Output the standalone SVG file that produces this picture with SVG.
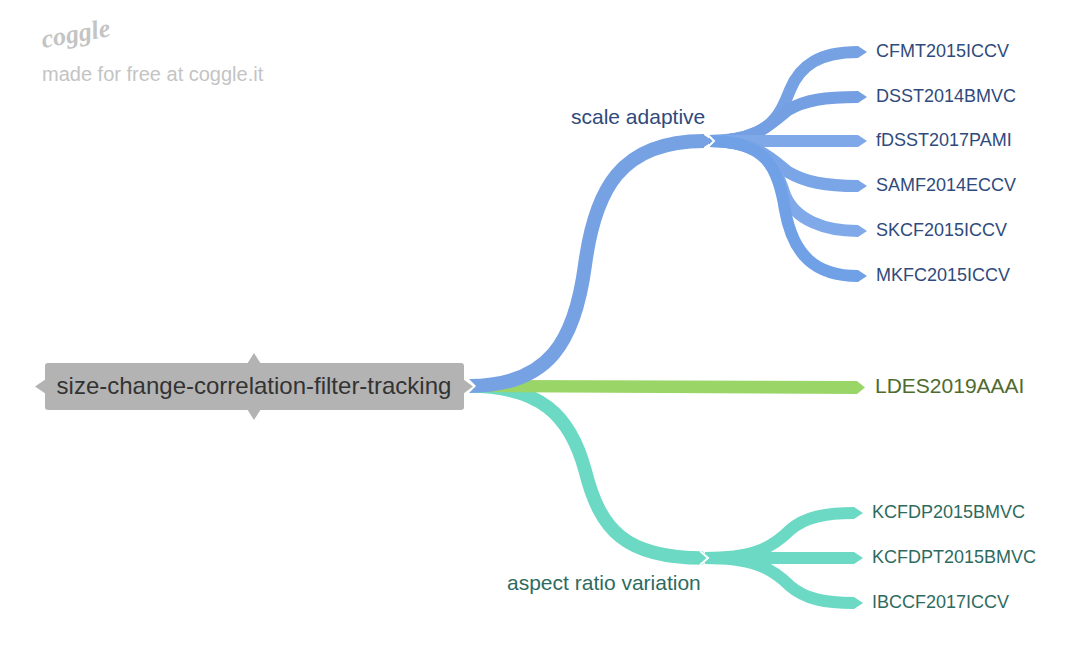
<svg xmlns="http://www.w3.org/2000/svg" width="1080" height="661" viewBox="0 0 1080 661">
<style>
text{font-family:"Liberation Sans",Arial,sans-serif}
.c{fill:none;stroke-linecap:butt}
.blue{font-size:18px;fill:#2f4a7c}
.teal{font-size:18px;fill:#2e6b5e}
.b1{stroke:#76a2e4}.b2{stroke:#74a0e3}.b3{stroke:#7fa8e8}.b4{stroke:#7aa5e6}.b5{stroke:#80a9e9}.b6{stroke:#70a0e6}
.t{stroke:#6bd9c4}
.f1{fill:#76a2e4}.f2{fill:#74a0e3}.f3{fill:#7fa8e8}.f4{fill:#7aa5e6}.f5{fill:#80a9e9}.f6{fill:#70a0e6}.ft{fill:#6bd9c4}
.chev{fill:none;stroke:#fff;stroke-width:2}
</style>
<g id="logo">
<text x="43" y="48" transform="rotate(-10 43 48)" font-size="26" font-style="italic" font-weight="bold" style="font-family:'Liberation Serif',serif" fill="#c4c4c4">coggle</text>
<text x="42" y="81" font-size="20" fill="#c4c4c4">made for free at coggle.it</text>
</g>
<g id="connectors">
<path class="c t" stroke-width="13.500" d="M469,386 C540,386 570,415 585,470 C600,530 625,558 703,558"/>
<polygon class="ft" points="697,552 703,552 710,558 703,564 697,564"/>
<polygon fill="#9ad568" points="469,380 857,381 865,387.500 857,394 469,392"/>
<path class="c b1" stroke-width="14" d="M469,386 C550,386 575,340 585,265 C595,190 620,141 704,141"/>
<polygon class="f1" points="698,135 704,135 713,141 704,147 698,147"/>
<polygon fill="#fff" points="462,378 469,379 476,386 469,393 462,394"/>
<g id="leaf-lines">
<path class="c b1" stroke-width="12" d="M709,141 C770,141 780,115 790,90 C800,65 820,52 858,52"/>
<polygon class="f1" points="858,46 867,52 858,58"/>
<path class="c b2" stroke-width="12" d="M709,141 C755,141 770,125 788,110 C805,100 825,97 858,97"/>
<polygon class="f2" points="858,91 867,97 858,103"/>
<path class="c b3" stroke-width="12" d="M709,141 L858,141"/>
<polygon class="f3" points="858,135 867,141 858,147"/>
<path class="c b4" stroke-width="12" d="M709,141 C755,141 770,157 788,172 C805,182 825,186 858,186"/>
<polygon class="f4" points="858,180 867,186 858,192"/>
<path class="c b5" stroke-width="12" d="M709,141 C765,141 775,165 785,195 C795,220 825,231 858,231"/>
<polygon class="f5" points="858,225 867,231 858,237"/>
<path class="c b6" stroke-width="12" d="M709,141 C765,141 778,165 785,210 C793,255 815,276 858,276"/>
<polygon class="f6" points="858,270 867,276 858,282"/>
<path class="c t" stroke-width="12" d="M705,558 C750,558 770,550 790,530 C805,517 825,513 854,513"/>
<polygon class="ft" points="854,507 863,513 854,519"/>
<path class="c t" stroke-width="12" d="M705,558 L854,558"/>
<polygon class="ft" points="854,552 863,558 854,564"/>
<path class="c t" stroke-width="12" d="M705,558 C750,558 770,566 790,586 C805,599 825,603 854,603"/>
<polygon class="ft" points="854,597 863,603 854,609"/>
</g>
<polyline class="chev" points="707,134 714,141 707,148"/>
<polyline class="chev" points="700,551 708,558 700,565"/>
</g>
<g id="root">
<rect x="45" y="363" width="419" height="47" rx="3" fill="#b3b3b3"/>
<polygon fill="#b3b3b3" points="247,364 254,353 261,364"/>
<polygon fill="#b3b3b3" points="247,409 254,420 261,409"/>
<polygon fill="#b3b3b3" points="46,379 35,386.500 46,394"/>
<polygon fill="#b3b3b3" points="463,379 473,386.500 463,394"/>
<text x="254" y="394" text-anchor="middle" font-size="24" fill="#333">size-change-correlation-filter-tracking</text>
</g>
<g id="scale-adaptive"><text x="571" y="124" font-size="21" fill="#2f4a7c">scale adaptive</text></g>
<g id="aspect-ratio-variation"><text x="507" y="590" font-size="21" fill="#2e6b5e">aspect ratio variation</text></g>
<g id="ldes"><text x="875" y="393" font-size="21" fill="#4f6b2f">LDES2019AAAI</text></g>
<g id="cfmt"><text class="blue" x="876" y="57">CFMT2015ICCV</text></g>
<g id="dsst"><text class="blue" x="876" y="102">DSST2014BMVC</text></g>
<g id="fdsst"><text class="blue" x="876" y="146">fDSST2017PAMI</text></g>
<g id="samf"><text class="blue" x="876" y="191">SAMF2014ECCV</text></g>
<g id="skcf"><text class="blue" x="876" y="236">SKCF2015ICCV</text></g>
<g id="mkfc"><text class="blue" x="876" y="281">MKFC2015ICCV</text></g>
<g id="kcfdp"><text class="teal" x="872" y="518">KCFDP2015BMVC</text></g>
<g id="kcfdpt"><text class="teal" x="872" y="563">KCFDPT2015BMVC</text></g>
<g id="ibccf"><text class="teal" x="872" y="608">IBCCF2017ICCV</text></g>
</svg>
